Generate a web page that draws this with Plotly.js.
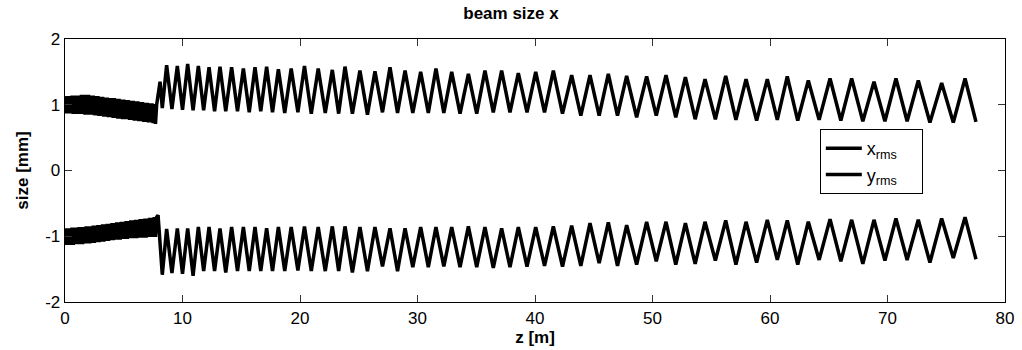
<!DOCTYPE html>
<html>
<head>
<meta charset="utf-8">
<script src="https://cdn.plot.ly/plotly-3.0.1.min.js"></script>
<style>
html,body{margin:0;padding:0;background:#fff;}
#chart{width:1022px;height:350px;}
</style>
</head>
<body>
<div id="chart"></div>
<script>
// ---- data ----
const zDense = [0.0,0.1,0.2,0.3,0.4,0.5,0.6,0.7,0.8,0.9,1.0,1.1,1.2,1.3,1.4,1.5,1.6,1.7,1.8,1.9,
  2.0,2.1,2.2,2.3,2.4,2.5,2.6,2.7,2.8,2.9,3.0,3.1,3.2,3.3,3.4,3.5,3.6,3.7,3.8,3.9,
  4.0,4.1,4.2,4.3,4.4,4.5,4.6,4.7,4.8,4.9,5.0,5.1,5.2,5.3,5.4,5.5,5.6,5.7,5.8,5.9,
  6.0,6.1,6.2,6.3,6.4,6.5,6.6,6.7,6.8,6.9,7.0,7.1,7.2,7.3,7.4,7.5,7.6,7.7,7.8];

const xDense = [1.13,0.87,1.13,0.87,1.13,0.87,1.14,0.86,1.14,0.86,1.14,0.86,1.14,0.86,1.15,0.86,1.15,0.85,1.15,0.85,
  1.15,0.85,1.14,0.85,1.14,0.84,1.13,0.84,1.13,0.83,1.12,0.83,1.12,0.82,1.11,0.82,1.11,0.81,1.10,0.81,
  1.10,0.80,1.10,0.80,1.09,0.79,1.09,0.79,1.08,0.78,1.08,0.78,1.07,0.78,1.07,0.77,1.06,0.77,1.06,0.76,
  1.05,0.76,1.05,0.75,1.04,0.75,1.04,0.74,1.03,0.74,1.03,0.73,1.02,0.73,1.02,0.72,1.01,0.71,1.00];

const yDense = [-0.88,-1.13,-0.88,-1.13,-0.88,-1.13,-0.87,-1.13,-0.87,-1.12,-0.87,-1.12,-0.86,-1.12,-0.86,-1.12,-0.86,-1.11,-0.85,-1.11,
  -0.85,-1.11,-0.85,-1.10,-0.84,-1.10,-0.84,-1.09,-0.83,-1.09,-0.83,-1.08,-0.82,-1.08,-0.82,-1.07,-0.81,-1.07,-0.81,-1.06,
  -0.80,-1.06,-0.80,-1.05,-0.79,-1.05,-0.79,-1.05,-0.78,-1.04,-0.78,-1.04,-0.77,-1.04,-0.77,-1.03,-0.76,-1.03,-0.76,-1.03,
  -0.75,-1.03,-0.75,-1.02,-0.74,-1.02,-0.74,-1.02,-0.73,-1.02,-0.73,-1.01,-0.72,-1.01,-0.72,-1.01,-0.71,-1.01,-0.71];

// transition points where the dense section ends
const zXStart = [8.09];
const xStart  = [1.35];
const zYStart = [7.92];
const yStart  = [-0.68];

// zig-zag section: turning points (trough, peak, trough, ...)
const zZig = [8.28,8.65,9.10,9.56,10.00,10.44,10.90,11.35,11.80,12.26,12.73,13.19,13.68,14.18,14.68,15.18,15.68,16.17,16.66,17.16,
  17.66,18.16,18.70,19.25,19.82,20.38,20.96,21.55,22.15,22.75,23.29,23.83,24.46,25.10,25.74,26.38,27.02,27.66,28.30,28.94,
  29.60,30.27,30.92,31.57,32.24,32.91,33.62,34.33,35.04,35.74,36.45,37.16,37.87,38.58,39.32,40.06,40.81,41.56,42.34,43.12,
  43.90,44.68,45.46,46.24,47.02,47.80,48.65,49.50,50.32,51.15,51.98,52.80,53.63,54.47,55.35,56.23,57.10,57.96,58.86,59.77,
  60.62,61.47,62.36,63.26,64.18,65.11,66.03,66.95,67.90,68.85,69.78,70.72,71.67,72.62,73.61,74.61,75.60,76.60,77.53];

const xZig = [0.95,1.60,0.935,1.59,0.925,1.62,0.915,1.59,0.915,1.57,0.90,1.58,0.90,1.57,0.90,1.55,0.885,1.57,0.90,1.58,
  0.885,1.54,0.875,1.55,0.885,1.59,0.865,1.55,0.875,1.53,0.865,1.58,0.865,1.52,0.85,1.51,0.885,1.57,0.875,1.52,
  0.875,1.50,0.875,1.55,0.875,1.50,0.865,1.47,0.865,1.52,0.885,1.52,0.885,1.48,0.885,1.50,0.885,1.52,0.865,1.45,
  0.835,1.45,0.835,1.47,0.835,1.44,0.81,1.43,0.835,1.45,0.81,1.42,0.78,1.39,0.78,1.44,0.77,1.39,0.76,1.39,
  0.77,1.43,0.76,1.37,0.77,1.40,0.76,1.40,0.75,1.35,0.75,1.40,0.75,1.37,0.73,1.33,0.73,1.40,0.74];

const yZig = [-1.585,-0.89,-1.56,-0.88,-1.57,-0.88,-1.60,-0.86,-1.53,-0.86,-1.53,-0.88,-1.55,-0.86,-1.53,-0.86,-1.53,-0.86,-1.53,-0.88,
  -1.53,-0.86,-1.53,-0.86,-1.52,-0.85,-1.53,-0.86,-1.53,-0.85,-1.53,-0.85,-1.55,-0.86,-1.53,-0.86,-1.46,-0.88,-1.53,-0.88,
  -1.47,-0.86,-1.47,-0.86,-1.46,-0.86,-1.47,-0.85,-1.47,-0.86,-1.48,-0.88,-1.47,-0.86,-1.46,-0.86,-1.45,-0.85,-1.46,-0.84,
  -1.45,-0.80,-1.41,-0.79,-1.45,-0.83,-1.43,-0.78,-1.38,-0.78,-1.43,-0.80,-1.42,-0.78,-1.37,-0.76,-1.43,-0.78,-1.40,-0.75,
  -1.36,-0.76,-1.43,-0.78,-1.36,-0.74,-1.38,-0.75,-1.42,-0.75,-1.37,-0.73,-1.36,-0.75,-1.40,-0.73,-1.33,-0.71,-1.35];

const xTickVals = [0,10,20,30,40,50,60,70,80];
const xTickText = ['0','10','20','30','40','50','60','70','80'];
const yTickVals = [-2,-1,0,1,2];
const yTickText = ['-2','-1','0','1','2'];

const titleText = 'beam size x';
const xTitle = 'z [m]';
const yTitle = 'size [mm]';
const seriesNames = ['x<sub>rms</sub>&nbsp;&nbsp;&nbsp;&nbsp;','y<sub>rms</sub>&nbsp;&nbsp;&nbsp;&nbsp;'];

// ---- chart ----
const FONT = 'Arial, "Liberation Sans", Helvetica, sans-serif';
const traces = [
  {
    x: zDense.concat(zXStart, zZig),
    y: xDense.concat(xStart, xZig),
    type: 'scatter', mode: 'lines', name: seriesNames[0],
    line: {color: '#000', width: 3.5, shape: 'linear'}
  },
  {
    x: zDense.concat(zYStart, zZig),
    y: yDense.concat(yStart, yZig),
    type: 'scatter', mode: 'lines', name: seriesNames[1],
    line: {color: '#000', width: 3.5, shape: 'linear'}
  }
];

const axisCommon = {
  showgrid: false, zeroline: false,
  showline: true, linecolor: '#000', linewidth: 1.3, mirror: 'ticks',
  ticks: 'inside', ticklen: 7, tickwidth: 1, tickcolor: '#333',
  tickmode: 'array',
  tickfont: {family: FONT, size: 17, color: '#000'}
};

const layout = {
  width: 1022, height: 350,
  paper_bgcolor: '#fff', plot_bgcolor: '#fff',
  margin: {l: 65, r: 17, t: 39, b: 48, pad: 0},
  showlegend: true,
  title: {
    text: '<b>' + titleText + '</b>',
    font: {family: FONT, size: 17, color: '#000'},
    x: 0.5, xanchor: 'center', y: 0.962, yanchor: 'middle'
  },
  xaxis: Object.assign({}, axisCommon, {
    range: [0, 80], tickvals: xTickVals, ticktext: xTickText,
    title: {text: '<b>' + xTitle + '</b>', font: {family: FONT, size: 17, color: '#000'}, standoff: 2}
  }),
  yaxis: Object.assign({}, axisCommon, {
    range: [-2, 2], tickvals: yTickVals, ticktext: yTickText,
    title: {text: '<b>' + yTitle + '</b>', font: {family: FONT, size: 17, color: '#000'}, standoff: 12}
  }),
  legend: {
    x: 0.803, xanchor: 'left', y: 0.658, yanchor: 'top',
    bgcolor: '#fff', bordercolor: '#000', borderwidth: 1,
    font: {family: FONT, size: 18, color: '#000'},
    tracegroupgap: 0, itemwidth: 36
  }
};

Plotly.newPlot('chart', traces, layout, {staticPlot: true, displayModeBar: false});
</script>
</body>
</html>
